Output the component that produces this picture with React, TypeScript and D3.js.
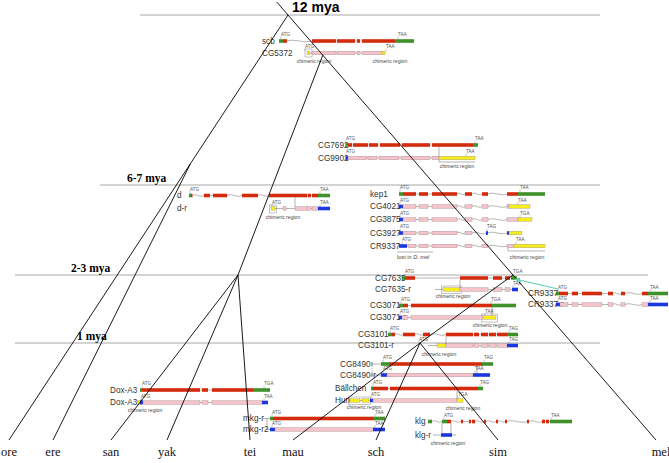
import React from "react";
import * as d3 from "d3";

const W = 669, H = 463;

// ---- time levels ----
const timeLabels = ["12 mya", "6-7 mya", "2-3 mya", "1 mya"];
const timeMya = [12, 6.5, 2.5, 1];
const timeSpan: [number, number][] = [[140, 600], [100, 600], [15, 648], [15, 600]];
const timeLabelX = [292, 127, 71, 77];

// ---- species (tips) ----
const species = ["ore", "ere", "san", "yak", "tei", "mau", "sch", "sim", "mel"];
const tipX = [9, 53, 111, 167, 250, 293, 376, 498, 656];
const tipParent = ["oe", "oe", "yak3", "yak3", "yak3", "sc", "sc", "sc", "ms"];

// ---- internal nodes ----
const nodeIds = ["root", "oe", "ymel", "yak3", "ms", "sc"];
const nodeParent = [null, "root", "root", "ymel", "ymel", "ms"];
const nodeMya = [12, 7.2, 10.7, 2.5, 2.5, 1];
const nodeX = [288, 190.6, 322.8, 238, 513, 420];

// ---- gene structures ----
type Ex = [number, number, string];
interface Gene { label: string; lx: number; y: number; wavy?: boolean; exons: Ex[]; codons: [string, number][]; lead?: [number, number][] }

const genes: Gene[] = [
  { label: "scb", lx: 262, y: 41, wavy: true, exons: [[279, 283, "G"], [283, 287, "R"], [312, 336, "R"], [337, 355, "R"], [357, 360, "R"], [362, 395, "R"], [395, 414, "G"]], codons: [["ATG", 281], ["TAA", 398]] },
  { label: "CG5372", lx: 262, y: 53, exons: [[307, 310, "Y"], [312, 336, "P"], [337, 355, "P"], [357, 360, "P"], [362, 382, "P"], [382, 385, "Y"]], codons: [["ATG", 305], ["TAA", 386]] },
  { label: "CG7692", lx: 318, y: 145, exons: [[345.5, 347.5, "G"], [347.5, 352, "R"], [353, 368, "R"], [369, 378, "R"], [380, 400, "R"], [402, 430, "R"], [432, 473, "R"], [473, 478, "G"]], codons: [["ATG", 346], ["TAA", 475]] },
  { label: "CG9902", lx: 318, y: 158, exons: [[345.5, 348, "B"], [348, 367, "P"], [368, 377, "P"], [379, 399, "P"], [401, 430, "P"], [432, 439, "P"], [439, 475, "Y"]], codons: [["ATG", 346], ["TAA", 466]] },
  { label: "d", lx: 177, y: 195.5, wavy: true, exons: [[189, 191, "G"], [191, 192.5, "R"], [204, 210, "R"], [213, 227, "R"], [242, 258, "R"], [269, 307, "R"], [307.5, 311, "R"], [312, 318, "R"], [318, 330, "G"]], codons: [["ATG", 190], ["TAA", 320]] },
  { label: "d-r", lx: 177, y: 208.5, exons: [[271, 275, "Y"], [283, 286, "P"], [295, 307, "P"], [307.5, 311, "P"], [312, 318, "P"], [318, 330, "B"]], codons: [["ATG", 272], ["TAA", 320]] },
  { label: "kep1", lx: 370, y: 194, wavy: true, exons: [[399, 403, "G"], [403, 416, "R"], [419, 428, "R"], [432, 457, "R"], [465, 472, "R"], [482, 488, "R"], [507, 518, "R"], [518, 545, "G"]], codons: [["ATG", 400], ["TAA", 520]] },
  { label: "CG4021", lx: 370, y: 206.5, wavy: true, exons: [[399, 403, "B"], [403, 416, "P"], [419, 428, "P"], [432, 457, "P"], [465, 472, "P"], [482, 488, "P"], [507, 509, "P"], [509, 530, "Y"]], codons: [["ATG", 400], ["TAA", 518]] },
  { label: "CG3875", lx: 370, y: 219.5, wavy: true, exons: [[399, 403, "B"], [403, 416, "P"], [419, 428, "P"], [432, 457, "P"], [465, 472, "P"], [482, 488, "P"], [507, 518, "P"], [518, 532, "Y"]], codons: [["ATG", 400], ["TGA", 520]] },
  { label: "CG3927", lx: 370, y: 233, wavy: true, exons: [[399, 403, "B"], [403, 416, "P"], [419, 428, "P"], [432, 457, "P"], [465, 472, "P"], [486, 488, "B"], [507, 509, "B"], [509, 522, "Y"]], codons: [["ATG", 400], ["TAG", 487]] },
  { label: "CR9337", lx: 370, y: 246, wavy: true, exons: [[399, 407, "B"], [408, 416, "P"], [419, 428, "P"], [432, 457, "P"], [465, 472, "P"], [482, 488, "P"], [507, 514, "P"], [514, 545, "Y"]], codons: [["ATG", 402], ["TAA", 516]] },
  { label: "CG7635", lx: 375, y: 278, exons: [[402, 405, "G"], [405, 415, "R"], [460, 488, "R"], [493, 502, "R"], [505, 510, "R"], [511, 517, "G"]], codons: [["ATG", 405], ["TGA", 513]] },
  { label: "CG7635-r", lx: 375, y: 289.5, exons: [[443, 460, "Y"], [460, 488, "P"], [493, 502, "P"], [505, 510, "P"], [512, 518, "B"]], lead: [[435, 443]], codons: [["TAA", 513]] },
  { label: "CR9337", lx: 528, y: 293.5, wavy: true, exons: [[556, 559, "G"], [559, 568, "R"], [572, 578, "R"], [582, 602, "R"], [608, 613, "R"], [621, 625, "R"], [642, 648, "R"], [648, 668, "G"]], codons: [["ATG", 558], ["TAA", 650]] },
  { label: "CR9337-r", lx: 528, y: 304.5, wavy: true, exons: [[556, 560, "B"], [560, 568, "P"], [572, 578, "P"], [582, 602, "P"], [608, 613, "P"], [621, 625, "P"], [642, 648, "P"], [648, 668, "B"]], codons: [["ATG", 558], ["TAA", 650]] },
  { label: "CG3071", lx: 370, y: 305.5, exons: [[399, 403, "G"], [403, 408, "R"], [411, 492, "R"], [492, 516, "G"]], codons: [["ATG", 401], ["TGA", 491]] },
  { label: "CG3071-r", lx: 370, y: 317.5, exons: [[399, 402, "B"], [402, 408, "P"], [411, 483, "P"], [483, 496, "Y"]], codons: [["ATG", 400], ["TAA", 485]] },
  { label: "CG3101", lx: 358, y: 334.5, wavy: true, exons: [[388, 392, "G"], [392, 395, "R"], [403, 415, "R"], [423, 430, "R"], [446, 473, "R"], [474, 479, "R"], [481, 488, "R"], [489, 496, "R"], [497, 507, "R"], [507, 518, "G"]], codons: [["ATG", 390], ["TAG", 509]] },
  { label: "CG3101-r", lx: 358, y: 345.5, exons: [[437, 446, "Y"], [446, 473, "P"], [474, 479, "P"], [481, 488, "P"], [489, 496, "P"], [497, 507, "P"], [507, 518, "B"]], lead: [[428, 437]], codons: [["ATG", 419], ["TAG", 509]] },
  { label: "CG8490", lx: 340, y: 364, exons: [[371, 373, "S"], [381, 389, "G"], [389, 482, "R"], [482, 493, "G"]], codons: [["ATG", 383], ["TAG", 484]] },
  { label: "CG8490-r", lx: 340, y: 375, exons: [[371, 373, "S"], [381, 387, "B"], [387, 473, "P"], [473, 490, "B"]], codons: [["ATG", 383], ["TAA", 475]] },
  { label: "Bällchen", lx: 335, y: 388.5, exons: [[371, 373, "G"], [373, 388, "R"], [390, 478, "R"], [478, 483, "G"]], codons: [["ATG", 373], ["TAG", 480]] },
  { label: "Hun", lx: 335, y: 400.5, exons: [[350, 360, "Y"], [362, 369, "Y"], [370, 373, "B"], [373, 457, "P"], [457, 463, "Y"]], codons: [["ATG", 371], ["TGA", 458]] },
  { label: "Dox-A3", lx: 110, y: 390, exons: [[140, 142, "G"], [142, 200, "R"], [202, 208, "R"], [212, 253, "R"], [253, 270, "G"]], codons: [["ATG", 142], ["TGA", 264]] },
  { label: "Dox-A3-r", lx: 110, y: 402.5, exons: [[137, 140, "Y"], [140, 143, "B"], [143, 200, "P"], [202, 208, "P"], [212, 262, "P"], [262, 268, "B"]], codons: [["ATG", 141], ["TAA", 264]] },
  { label: "mkg-r", lx: 243, y: 418.5, exons: [[270, 273, "G"], [273, 373, "R"], [373, 385, "G"]], codons: [["ATG", 272], ["TAA", 375]] },
  { label: "mkg-r2", lx: 243, y: 429.5, exons: [[270, 275, "B"], [275, 373, "P"], [373, 385, "B"]], codons: [["ATG", 272], ["TAA", 375]] },
  { label: "klg", lx: 415, y: 421.5, wavy: true, exons: [[428, 432, "G"], [442, 447, "G"], [447, 451, "R"], [461, 463, "R"], [469, 471, "R"], [472, 475, "R"], [484, 486, "R"], [496, 498, "R"], [505, 507, "R"], [527, 529, "R"], [542, 545, "R"], [546, 549, "R"], [550, 572, "G"]], codons: [["ATG", 444], ["TAA", 551]] },
  { label: "klg-r", lx: 415, y: 435, exons: [[441, 452, "B"]], lead: [[433, 441], [452, 456]], codons: [] },
];

const chimeric: [number, number][] = [[314, 61], [390, 61], [457, 166], [283, 217], [527, 257], [453, 296], [490, 325], [439, 354], [364, 407.5], [463, 408], [145, 410], [448, 443]];
const brackets: [number, number][][] = [
  [[439, 147], [439, 162], [475, 162]],
  [[295, 197.5], [295, 207]],
  [[397, 252], [433, 252]],
  [[508, 248], [508, 251], [545, 251]],
  [[460, 280], [460, 288]],
  [[492, 307.5], [492, 316]],
  [[446, 336.5], [446, 344]],
  [[457, 390.5], [457, 399]],
  [[442, 423], [442, 433]],
  [[451, 423], [451, 433]],
  [[263, 418.5], [270, 418.5]],
  [[267, 418.5], [267, 429.5], [270, 429.5]],
  [[477, 366], [477, 374]],
];
const boxes: [number, number, number, number][] = [[305, 49, 7, 8], [269.5, 205, 7, 8], [481.5, 314, 16, 8], [441.5, 286, 20, 7.5], [348.5, 397, 22, 7.5]];
const dotted: [number, number][][] = [[[372, 364], [372, 375]]];
const arrow: [number, number][] = [[558, 289], [515, 279]];

const COL: Record<string, string> = { G: "#3f9129", R: "#d42b0d", P: "#f5c4cb", B: "#1a37e0", Y: "#f4ef1c", S: "#aaaaaa" };

export default function App() {
  const y = d3.scaleLinear().domain([12, 6.5, 2.5, 1, 0]).range([15, 185, 275, 343, 440]);
  const gx = d3.scaleLinear().domain([0, W]).range([0, W]);
  const exH = 3.6;
  const line = d3.line();

  const nodePos: Record<string, [number, number]> = {};
  nodeIds.forEach((id, i) => { nodePos[id] = [nodeX[i], y(nodeMya[i])]; });
  const edges: [[number, number], [number, number]][] = [];
  nodeIds.forEach((id, i) => { const p = nodeParent[i]; if (p) edges.push([nodePos[p], nodePos[id]]); });
  species.forEach((s, i) => edges.push([nodePos[tipParent[i]], [tipX[i], y(0)]]));
  const r = nodePos["root"], m = nodePos["ms"];
  const k = (m[0] - r[0]) / (m[1] - r[1]);
  edges.push([r, [r[0] - k * (r[1] - 2), 2]]);

  const font = "Arial, 'Liberation Sans', sans-serif";
  const serif = "'Times New Roman', 'Liberation Serif', serif";

  return (
    <div style={{ position: "absolute", left: 0, top: 0 }}>
      <svg width={W} height={H} style={{ display: "block", background: "#fff" }}>
        {timeMya.map((t, i) => (
          <line key={"tl" + i} x1={timeSpan[i][0]} x2={timeSpan[i][1]} y1={y(t)} y2={y(t)} stroke="#a8a8a8" strokeWidth={1} />
        ))}
        {boxes.map((b, i) => (
          <rect key={"bx" + i} x={gx(b[0])} y={b[1]} width={b[2]} height={b[3]} fill="none" stroke="#888" strokeWidth={0.5} />
        ))}
        {brackets.map((b, i) => (
          <path key={"br" + i} d={line(b.map(p => [gx(p[0]), p[1]]) as any) || ""} fill="none" stroke="#666" strokeWidth={0.5} />
        ))}
        {dotted.map((b, i) => (
          <path key={"dt" + i} d={line(b as any) || ""} fill="none" stroke="#777" strokeWidth={0.6} strokeDasharray="1,1" />
        ))}
        {genes.map((g, gi) => {
          const yc = g.y;
          const parts: any[] = [];
          const gaps: [number, number][] = [];
          for (let i = 1; i < g.exons.length; i++) {
            const a = g.exons[i - 1][1], b = g.exons[i][0];
            if (b - a > 0.6) gaps.push([a, b]);
          }
          (g.lead || []).forEach(l => gaps.push(l));
          gaps.forEach(([a, b], i) => {
            const x0 = gx(a), x1 = gx(b), w = x1 - x0;
            const d = g.wavy && w > 6
              ? `M${x0},${yc} C${x0 + w / 3},${yc - 2.6} ${x1 - w / 3},${yc + 2.6} ${x1},${yc}`
              : `M${x0},${yc} L${x1},${yc}`;
            parts.push(<path key={"in" + i} d={d} fill="none" stroke="#777" strokeWidth={0.55} />);
          });
          g.exons.forEach(([a, b, t], i) => {
            parts.push(
              <rect key={"ex" + i} x={gx(a)} y={yc - exH / 2} width={Math.max(0.8, gx(b) - gx(a))} height={exH}
                fill={COL[t]} stroke={t === "P" || t === "Y" ? "#9a7f83" : "none"} strokeWidth={0.35} />
            );
          });
          g.codons.forEach(([txt, x], i) => {
            parts.push(<line key={"ct" + i} x1={gx(x)} x2={gx(x)} y1={yc - 4.3} y2={yc - exH / 2} stroke="#666" strokeWidth={0.4} />);
            parts.push(<text key={"cx" + i} x={gx(x)} y={yc - 4.6} fontSize={4.6} fontFamily={font} fill="#555">{txt}</text>);
          });
          return (
            <g key={"g" + gi}>
              <text x={gx(g.lx)} y={yc + 2.9} fontSize={8.2} fontFamily={font} fill="#333">{g.label}</text>
              {parts}
            </g>
          );
        })}
        {chimeric.map(([x, yy], i) => (
          <text key={"ch" + i} x={gx(x)} y={yy + 1.5} fontSize={5.1} fontFamily={font} fill="#444" textAnchor="middle">chimeric region</text>
        ))}
        <text x={gx(397)} y={258.5} fontSize={5.6} fontFamily={font} fill="#444">lost in <tspan fontStyle="italic">D. mel</tspan></text>
        {edges.map(([a, b], i) => (
          <line key={"e" + i} x1={a[0]} y1={a[1]} x2={b[0]} y2={b[1]} stroke="#000" strokeWidth={0.9} />
        ))}
        <defs>
          <marker id="ah" viewBox="0 0 10 10" refX="9" refY="5" markerWidth="5" markerHeight="5" orient="auto">
            <path d="M0,0 L10,5 L0,10 z" fill="#5fcfae" />
          </marker>
        </defs>
        <path d={line(arrow as any) || ""} stroke="#5fcfae" strokeWidth={1.1} fill="none" markerEnd="url(#ah)" />
        {species.map((s, i) => (
          <text key={"sp" + i} x={tipX[i] + (i === 8 ? 5 : 0)} y={456} fontSize={12.5} fontFamily={serif} textAnchor="middle" fill="#111">{s}</text>
        ))}
        {timeLabels.map((t, i) => (
          <text key={"tx" + i} x={timeLabelX[i]} y={i === 0 ? 12 : y(timeMya[i]) - 3.5}
            fontSize={i === 0 ? 14 : 11.5} fontWeight="bold"
            fontFamily={i === 0 ? font : serif} fill="#000">{t}</text>
        ))}
      </svg>
    </div>
  );
}
